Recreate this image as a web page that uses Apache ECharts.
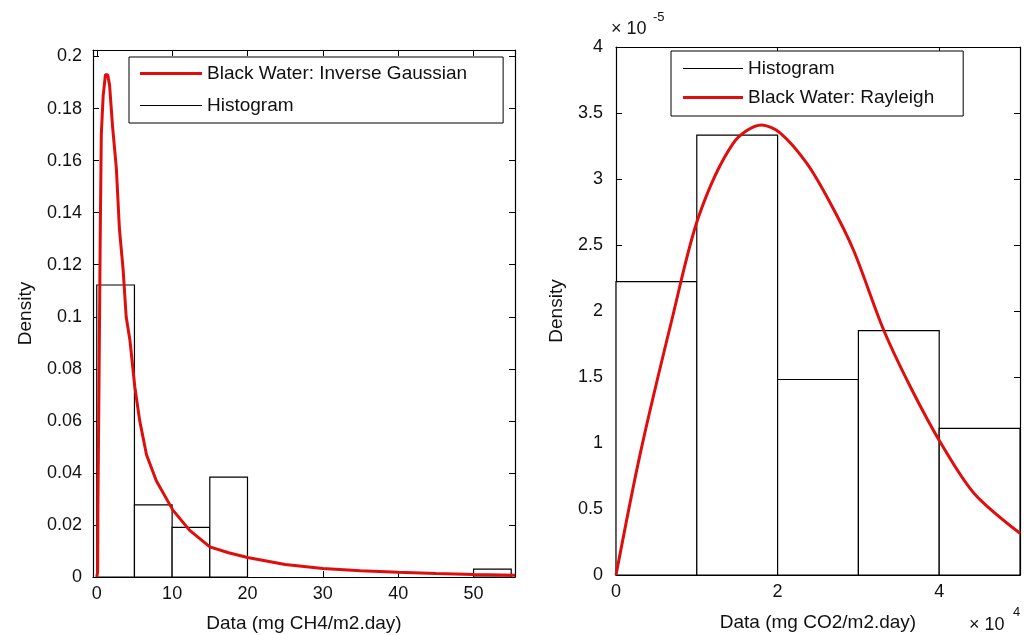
<!DOCTYPE html>
<html>
<head>
<meta charset="utf-8">
<script src="https://cdn.jsdelivr.net/npm/echarts@6/dist/echarts.min.js"></script>
<style>
  html, body { margin: 0; padding: 0; background: #fff; }
  #chart { width: 1024px; height: 635px; }
</style>
</head>
<body>
<div id="chart"></div>
<script>
// ---- CH4 panel (left) ----
const ch4BinLo = [0, 5, 10, 15, 50];
const ch4BinHi = [5, 10, 15, 20, 55];
const ch4Density = [0.1122, 0.0277, 0.0191, 0.0384, 0.0030];
// Inverse Gaussian fit, sampled along the curve
const ch4FitX = [0, 0.12, 0.15, 0.3, 0.45, 0.6, 0.85, 1.15, 1.45, 1.7, 2.1, 2.6, 3.0, 3.5, 3.9, 4.4, 5.05, 5.7, 6.6, 7.9, 10.1, 12.3, 15, 17.5, 20, 25, 30, 35, 40, 45, 50, 55.5];
const ch4FitY = [0, 0.002, 0.026, 0.075, 0.128, 0.170, 0.185, 0.193, 0.193, 0.189, 0.173, 0.157, 0.134, 0.118, 0.100, 0.091, 0.073, 0.060, 0.047, 0.037, 0.0257, 0.018, 0.0116, 0.0093, 0.0075, 0.0048, 0.0033, 0.0024, 0.0018, 0.0013, 0.0010, 0.0007];
const ch4XTicks = [0, 10, 20, 30, 40, 50];
const ch4YTicks = [0, 0.02, 0.04, 0.06, 0.08, 0.1, 0.12, 0.14, 0.16, 0.18, 0.2];

// ---- CO2 panel (right) ----
const co2BinLo = [0, 10000, 20000, 30000, 40000];
const co2BinHi = [10000, 20000, 30000, 40000, 50000];
const co2Density = [2.222e-5, 3.333e-5, 1.481e-5, 1.852e-5, 1.111e-5];
// Rayleigh fit, sampled along the curve
const co2FitX = [0, 3000, 6900, 10200, 14500, 18000, 20300, 23600, 26500, 29400, 33100, 36400, 40100, 44300, 50000];
const co2FitY = [0, 0.92e-5, 1.93e-5, 2.71e-5, 3.27e-5, 3.41e-5, 3.35e-5, 3.12e-5, 2.82e-5, 2.46e-5, 1.86e-5, 1.43e-5, 1.01e-5, 0.62e-5, 0.316e-5];
const co2XTicks = [0, 20000, 40000];
const co2YTicks = [0, 0.5e-5, 1e-5, 1.5e-5, 2e-5, 2.5e-5, 3e-5, 3.5e-5, 4e-5];

const FONT = 'Liberation Sans, Arial, sans-serif';
const RED = '#e00d0d';
const RED_ICON = 'path://M0,0 L62,0 L62,3 L0,3 Z';
const BLACK_ICON = 'path://M0,0 L62,0 L62,1 L0,1 Z';

const zip3 = (a, b, c) => a.map((v, i) => [v, b[i], c[i]]);
const zip2 = (a, b) => a.map((v, i) => [v, b[i]]);

// Each histogram bin: [left edge, right edge, density] -> outlined white rect
function histRender(params, api) {
  const top = api.coord([api.value(0), api.value(2)]);
  const base = api.coord([api.value(1), 0]);
  return {
    type: 'rect',
    shape: { x: top[0], y: top[1], width: base[0] - top[0], height: base[1] - top[1] },
    style: { fill: '#fff', stroke: '#000', lineWidth: 1.2 }
  };
}

function xAxisDef(grid, pos, min, max, ticks, fmt, name, showLabel, margin, gap) {
  return {
    type: 'value', gridIndex: grid, position: pos, min: min, max: max,
    axisLine: { show: true, onZero: false, lineStyle: { color: '#000', width: 1.2 } },
    axisTick: { show: true, inside: true, length: 6, customValues: ticks, lineStyle: { color: '#000' } },
    axisLabel: { show: showLabel, customValues: ticks, margin: margin, color: '#111', fontSize: 18, fontFamily: FONT, formatter: fmt },
    splitLine: { show: false },
    name: showLabel ? name : '',
    nameLocation: 'middle', nameGap: gap,
    nameTextStyle: { color: '#111', fontSize: 19, fontFamily: FONT }
  };
}

function yAxisDef(grid, pos, min, max, ticks, fmt, showLabel, margin, gap) {
  return {
    type: 'value', gridIndex: grid, position: pos, min: min, max: max,
    axisLine: { show: true, onZero: false, lineStyle: { color: '#000', width: 1.2 } },
    axisTick: { show: true, inside: true, length: 6, customValues: ticks, lineStyle: { color: '#000' } },
    axisLabel: { show: showLabel, customValues: ticks, margin: margin, color: '#111', fontSize: 18, fontFamily: FONT, formatter: fmt },
    splitLine: { show: false },
    name: showLabel ? 'Density' : '',
    nameLocation: 'middle', nameRotate: 90, nameGap: gap,
    nameTextStyle: { color: '#111', fontSize: 19, fontFamily: FONT }
  };
}

const fmtPlain = v => String(+v.toFixed(4));
const fmtE4 = v => String(+(v / 1e4).toFixed(3));
const fmtEm5 = v => String(+(v * 1e5).toFixed(3));

const legendBase = {
  orient: 'vertical', selectedMode: false,
  borderColor: '#000', borderWidth: 1, backgroundColor: '#fff',
  itemHeight: 19,
  itemStyle: { borderWidth: 0 },
  textStyle: { color: '#111', fontSize: 19, fontFamily: FONT }
};

const option = {
  backgroundColor: '#fff',
  animation: false,
  grid: [
    { left: 93, top: 50, width: 422, height: 527, outerBoundsMode: 'none' },
    { left: 616, top: 47, width: 404, height: 528, outerBoundsMode: 'none' }
  ],
  xAxis: [
    xAxisDef(0, 'bottom', -0.5, 55.5, ch4XTicks, fmtPlain, 'Data (mg CH4/m2.day)', true, 8, 37),
    xAxisDef(0, 'top', -0.5, 55.5, ch4XTicks, fmtPlain, '', false, 8, 0),
    xAxisDef(1, 'bottom', 0, 50000, co2XTicks, fmtE4, 'Data (mg CO2/m2.day)', true, 8, 38),
    xAxisDef(1, 'top', 0, 50000, co2XTicks, fmtE4, '', false, 8, 0)
  ],
  yAxis: [
    yAxisDef(0, 'left', 0, 0.2025, ch4YTicks, fmtPlain, true, 11, 58),
    yAxisDef(0, 'right', 0, 0.2025, ch4YTicks, fmtPlain, false, 8, 0),
    yAxisDef(1, 'left', 0, 4e-5, co2YTicks, fmtEm5, true, 13, 50),
    yAxisDef(1, 'right', 0, 4e-5, co2YTicks, fmtEm5, false, 8, 0)
  ],
  legend: [
    Object.assign({}, legendBase, {
      left: 129, top: 57, padding: [7, 36, 8, 11], itemWidth: 62, itemGap: 13,
      data: [
        { name: 'Black Water: Inverse Gaussian', icon: RED_ICON, itemStyle: { color: RED } },
        { name: 'Histogram', icon: BLACK_ICON, itemStyle: { color: '#000' } }
      ]
    }),
    Object.assign({}, legendBase, {
      left: 671, top: 51, padding: [8, 29, 9, 12], itemWidth: 60, itemGap: 10,
      data: [
        { name: 'Histogram', icon: BLACK_ICON, itemStyle: { color: '#000' } },
        { name: 'Black Water: Rayleigh', icon: RED_ICON, itemStyle: { color: RED } }
      ]
    })
  ],
  graphic: [
    { type: 'text', left: 611, top: 20, style: { text: '× 10', fontSize: 18, fontFamily: FONT, fill: '#111' } },
    { type: 'text', left: 653, top: 11, style: { text: '-5', fontSize: 13, fontFamily: FONT, fill: '#111' } },
    { type: 'text', left: 969, top: 616, style: { text: '× 10', fontSize: 18, fontFamily: FONT, fill: '#111' } },
    { type: 'text', left: 1013, top: 606, style: { text: '4', fontSize: 13, fontFamily: FONT, fill: '#111' } }
  ],
  series: [
    {
      name: 'Histogram', type: 'custom', xAxisIndex: 0, yAxisIndex: 0, z: 2,
      itemStyle: { color: '#000' },
      encode: { x: [0, 1], y: 2 },
      renderItem: histRender,
      data: zip3(ch4BinLo, ch4BinHi, ch4Density)
    },
    {
      name: 'Black Water: Inverse Gaussian', type: 'line', xAxisIndex: 0, yAxisIndex: 0, z: 3,
      symbol: 'none', showSymbol: false, smooth: false, clip: true,
      itemStyle: { color: RED },
      lineStyle: { color: RED, width: 3 },
      data: zip2(ch4FitX, ch4FitY)
    },
    {
      name: 'Histogram', type: 'custom', xAxisIndex: 2, yAxisIndex: 2, z: 2,
      itemStyle: { color: '#000' },
      encode: { x: [0, 1], y: 2 },
      renderItem: histRender,
      data: zip3(co2BinLo, co2BinHi, co2Density)
    },
    {
      name: 'Black Water: Rayleigh', type: 'line', xAxisIndex: 2, yAxisIndex: 2, z: 3,
      symbol: 'none', showSymbol: false, smooth: 0.3, clip: true,
      itemStyle: { color: RED },
      lineStyle: { color: RED, width: 3 },
      data: zip2(co2FitX, co2FitY)
    }
  ]
};

const chart = echarts.init(document.getElementById('chart'), null, { renderer: 'canvas' });
chart.setOption(option);
</script>
</body>
</html>
